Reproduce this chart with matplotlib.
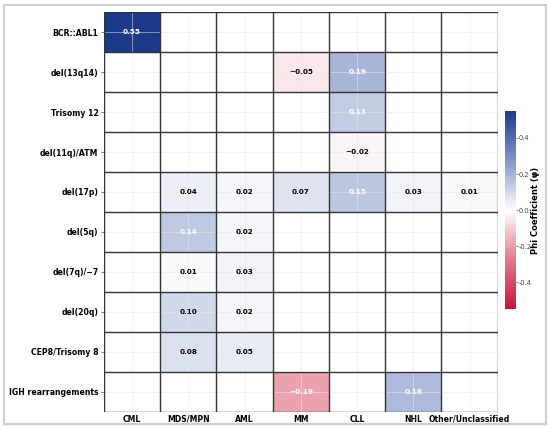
import numpy as np
import matplotlib
matplotlib.use("Agg")
import matplotlib.pyplot as plt
from matplotlib.colors import LinearSegmentedColormap
from matplotlib.patches import Rectangle

plt.rcParams["axes.unicode_minus"] = False

# abnormalities (rows) x diagnosis groups (columns); NaN = no value
rows = ["BCR::ABL1", "del(13q14)", "Trisomy 12", "del(11q)/ATM", "del(17p)",
        "del(5q)", "del(7q)/\u22127", "del(20q)", "CEP8/Trisomy 8", "IGH rearrangements"]
cols = ["CML", "MDS/MPN", "AML", "MM", "CLL", "NHL", "Other/Unclassified"]
nan = np.nan
phi = np.array([
    [0.55, nan, nan, nan, nan, nan, nan],
    [nan, nan, nan, -0.05, 0.19, nan, nan],
    [nan, nan, nan, nan, 0.13, nan, nan],
    [nan, nan, nan, nan, -0.02, nan, nan],
    [nan, 0.04, 0.02, 0.07, 0.15, 0.03, 0.01],
    [nan, 0.14, 0.02, nan, nan, nan, nan],
    [nan, 0.01, 0.03, nan, nan, nan, nan],
    [nan, 0.10, 0.02, nan, nan, nan, nan],
    [nan, 0.08, 0.05, nan, nan, nan, nan],
    [nan, nan, nan, -0.19, nan, 0.18, nan],
])
vlim = 0.55

cmap = LinearSegmentedColormap.from_list(
    "phi", ["#c8143c", "#e07a8c", "#ffffff", "#8496c8", "#1c3a8c"])

fig = plt.figure(figsize=(5.5, 4.3), dpi=100)
ax = fig.add_axes([0.189, 0.042, 0.716, 0.930])
cax = fig.add_axes([0.918, 0.281, 0.02, 0.461])

im = ax.imshow(np.ma.masked_invalid(phi), cmap=cmap, vmin=-vlim, vmax=vlim,
               aspect="auto", interpolation="nearest")

# cell borders
for i in range(len(rows) + 1):
    ax.axhline(i - 0.5, color="#333333", lw=1.0, zorder=3)
for j in range(len(cols) + 1):
    ax.axvline(j - 0.5, color="#333333", lw=1.0, zorder=3)

# faint grid through cell centres
ax.set_xticks(range(len(cols)))
ax.set_yticks(range(len(rows)))
ax.grid(True, color="#e6e6e6", lw=0.6, alpha=0.6, zorder=2)

ax.set_xticklabels(cols, fontsize=5.6, fontweight="bold")
ax.set_yticklabels(rows, fontsize=5.6, fontweight="bold")
ax.tick_params(axis="y", length=2, width=0.6, pad=2, color="#666666")
ax.tick_params(axis="x", length=0, pad=2)
for s in ax.spines.values():
    s.set_visible(False)

for i in range(len(rows)):
    for j in range(len(cols)):
        v = phi[i, j]
        if np.isnan(v):
            continue
        txt = f"{v:.2f}".replace("-", "\u2212")
        c = "white" if abs(v) > 0.1 else "black"
        ax.text(j, i, txt, ha="center", va="center", fontsize=5.2,
                fontweight="bold", color=c, zorder=4)

cb = fig.colorbar(im, cax=cax, ticks=[-0.4, -0.2, 0.0, 0.2, 0.4])
cb.outline.set_visible(False)
cb.ax.tick_params(labelsize=4.8, length=1.5, width=0.5, pad=0.8, colors="#444444")
cb.set_label("Phi Coefficient (\u03c6)", rotation=90, fontsize=6, fontweight="bold")
cb.ax.yaxis.set_label_coords(2.75, 0.5)
cb.ax.yaxis.label.set_va("center")

# light frame around the figure
fig.patches.append(Rectangle((0.007, 0.014), 0.986, 0.975, transform=fig.transFigure,
                             fill=False, edgecolor="#cfcfcf", lw=1.5))

fig.savefig("out.png", dpi=100)
